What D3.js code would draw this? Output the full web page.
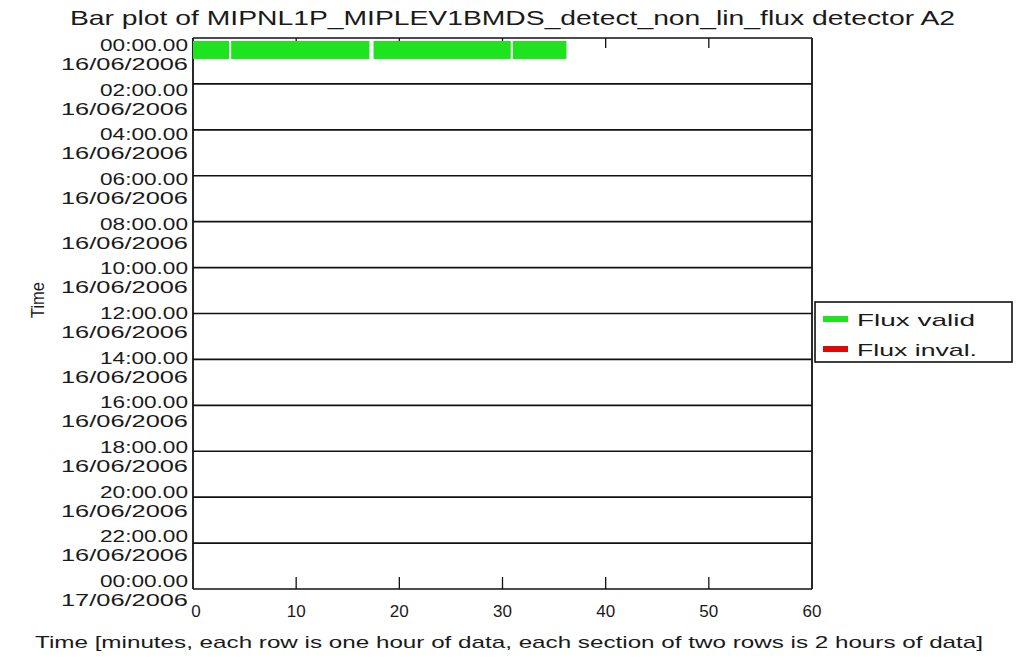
<!DOCTYPE html>
<head>
	<meta charset="utf-8">
	<style>
		body {margin: 0; background: #fff;}
		text {font-family: "Liberation Sans", "DejaVu Sans", sans-serif; fill: #1a1a1a;}
	</style>
	<script src="https://d3js.org/d3.v7.min.js" charset="utf-8"></script>
</head>
<body>
	<script>
		// data: one row per hour, segments in minutes
		var segHour = [0, 0, 0, 0];
		var segStart = [0, 3.7, 17.5, 31.0];
		var segEnd = [3.5, 17.1, 30.8, 36.2];
		var segStatus = ["valid", "valid", "valid", "valid"];

		var sectionHours = [0, 2, 4, 6, 8, 10, 12, 14, 16, 18, 20, 22, 24];
		var timeLabels = ["00:00.00", "02:00.00", "04:00.00", "06:00.00", "08:00.00", "10:00.00",
			"12:00.00", "14:00.00", "16:00.00", "18:00.00", "20:00.00", "22:00.00", "00:00.00"];
		var dateLabels = ["16/06/2006", "16/06/2006", "16/06/2006", "16/06/2006", "16/06/2006", "16/06/2006",
			"16/06/2006", "16/06/2006", "16/06/2006", "16/06/2006", "16/06/2006", "16/06/2006", "17/06/2006"];
		var xTicks = [0, 10, 20, 30, 40, 50, 60];
		var legendNames = ["Flux valid", "Flux inval."];
		var legendKeys = ["valid", "invalid"];

		var colors = {valid: "#1ee31e", invalid: "#dd0808"};

		var width = 1016, height = 663;
		var svg = d3.select("body").append("svg")
					.attr("width", width)
					.attr("height", height);

		var x = d3.scaleLinear().domain([0, 60]).range([193, 812]);
		var y = d3.scaleLinear().domain([0, 24]).range([38, 589]);
		// labels in the original are spaced a bit tighter than the grid
		var yLab = d3.scaleLinear().domain([0, 24]).range([45, 581]);

		function fit(sel, len) {
			return sel.attr("textLength", len).attr("lengthAdjust", "spacingAndGlyphs");
		}

		// title
		svg.append("text")
			.attr("x", 70).attr("y", 25)
			.attr("font-size", "21px")
			.call(fit, 885)
			.text("Bar plot of MIPNL1P_MIPLEV1BMDS_detect_non_lin_flux detector A2");

		var segs = segHour.map(function(h, i) {
			return {hour: h, start: segStart[i], end: segEnd[i], status: segStatus[i]};
		});

		// section lines every 2 hours
		svg.selectAll("line.sec")
			.data(sectionHours)
			.enter()
			.append("line")
			.attr("x1", x(0)).attr("x2", x(60))
			.attr("y1", function(d) {return y(d);})
			.attr("y2", function(d) {return y(d);})
			.attr("stroke", "#111")
			.attr("stroke-width", 1.6);

		// frame sides
		svg.append("line")
			.attr("x1", x(0)).attr("x2", x(0))
			.attr("y1", y(0)).attr("y2", y(24))
			.attr("stroke", "#111").attr("stroke-width", 1.8);
		svg.append("line")
			.attr("x1", x(60)).attr("x2", x(60))
			.attr("y1", y(0)).attr("y2", y(24))
			.attr("stroke", "#111").attr("stroke-width", 1.8);

		// x ticks, bottom and top
		var inner = xTicks.slice(1, -1);
		svg.selectAll("line.bt")
			.data(inner)
			.enter()
			.append("line")
			.attr("x1", function(d) {return x(d);})
			.attr("x2", function(d) {return x(d);})
			.attr("y1", y(24)).attr("y2", y(24) - 12)
			.attr("stroke", "#111").attr("stroke-width", 1.3);
		svg.selectAll("line.tt")
			.data(inner)
			.enter()
			.append("line")
			.attr("x1", function(d) {return x(d);})
			.attr("x2", function(d) {return x(d);})
			.attr("y1", y(0)).attr("y2", y(0) + 10)
			.attr("stroke", "#111").attr("stroke-width", 1.3);

		// bars sit over the top ticks
		svg.selectAll("rect.bar")
			.data(segs)
			.enter()
			.append("rect")
			.attr("class", "bar")
			.attr("x", function(d) {return x(d.start);})
			.attr("y", function(d) {return y(d.hour) + 3;})
			.attr("width", function(d) {return x(d.end) - x(d.start);})
			.attr("height", function(d) {return y(d.hour + 1) - y(d.hour) - 5;})
			.attr("fill", function(d) {return colors[d.status];});

		svg.selectAll("text.xt")
			.data(xTicks)
			.enter()
			.append("text")
			.attr("x", function(d) {return x(d) + (d === 0 ? 3 : 0);})
			.attr("y", 617)
			.attr("text-anchor", "middle")
			.attr("font-size", "17px")
			.text(function(d) {return d;});

		svg.append("text")
			.attr("x", 35).attr("y", 648)
			.attr("font-size", "17px")
			.call(fit, 948)
			.text("Time [minutes, each row is one hour of data, each section of two rows is 2 hours of data]");

		// y labels
		svg.selectAll("text.yt")
			.data(sectionHours)
			.enter()
			.append("text")
			.attr("x", 188 - 88)
			.attr("y", function(d) {return yLab(d) + 6;})
			.attr("font-size", "17px")
			.call(fit, 88)
			.text(function(d, i) {return timeLabels[i];});
		svg.selectAll("text.yd")
			.data(sectionHours)
			.enter()
			.append("text")
			.attr("x", 188 - 127)
			.attr("y", function(d) {return yLab(d) + 25;})
			.attr("font-size", "17px")
			.call(fit, 127)
			.text(function(d, i) {return dateLabels[i];});

		svg.append("text")
			.attr("transform", "translate(44,300) rotate(-90)")
			.attr("x", -18)
			.attr("font-size", "19px")
			.call(fit, 36)
			.text("Time");

		// legend
		var lg = svg.append("g");
		lg.append("rect")
			.attr("x", 815).attr("y", 302)
			.attr("width", 197).attr("height", 60)
			.attr("fill", "#fff")
			.attr("stroke", "#111").attr("stroke-width", 1.6);
		legendNames.forEach(function(name, i) {
			lg.append("rect")
				.attr("x", 823).attr("y", 316 + i * 30)
				.attr("width", 25).attr("height", 6)
				.attr("fill", colors[legendKeys[i]]);
			lg.append("text")
				.attr("x", 857).attr("y", 326 + i * 30)
				.attr("font-size", "17px")
				.call(fit, 118 + i * 2)
				.text(name);
		});
	</script>
</body>
</html>
